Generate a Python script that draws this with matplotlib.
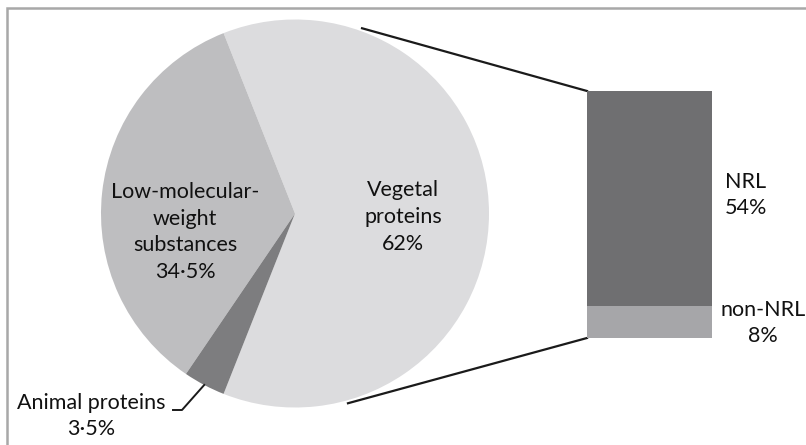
import matplotlib.pyplot as plt
from matplotlib.patches import Rectangle
import numpy as np

plt.rcParams["font.family"] = ["Lato", "DejaVu Sans"]

# pie data (percent)
pie_labels = ["Vegetal\nproteins\n62%", "Low-molecular-\nweight\nsubstances\n34\u00b75%", "Animal proteins\n3\u00b75%"]
pie_values = [62, 34.5, 3.5]
pie_colors = ["#dcdcde", "#bebec0", "#7d7d7f"]

# bar (split of vegetal proteins)
bar_labels = ["non-NRL\n8%", "NRL\n54%"]
bar_values = [8, 54]
bar_colors = ["#a6a6a9", "#6f6f71"]

W, H = 806, 445
fig = plt.figure(figsize=(W / 100, H / 100), dpi=100)
ax = fig.add_axes([0, 0, 1, 1])

# pie
cx, cy, r = 295, 445 - 213.5, 194
start = -pie_values[0] / 100 * 360 / 2
wedges, _ = ax.pie(pie_values, colors=pie_colors, startangle=start, counterclock=True,
                   center=(cx, cy), radius=r, frame=True, wedgeprops=dict(linewidth=0))
ax.set_xlim(0, W)
ax.set_ylim(0, H)
ax.set_aspect("equal")
ax.axis("off")

# bar of pie
bx, bw = 649.5, 125
bottom0 = 445 - 338
scale = 247 / sum(bar_values)
bottoms = [bottom0, bottom0 + bar_values[0] * scale]
ax.bar([bx, bx], [v * scale for v in bar_values], width=bw, bottom=bottoms,
       color=bar_colors, linewidth=0)

# connector lines from pie to bar
bar_top = bottom0 + sum(bar_values) * scale
for ang, by in [(70.1, bar_top), (-74.4, bottom0)]:
    px = cx + (r + 3) * np.cos(np.radians(ang))
    py = cy + (r + 3) * np.sin(np.radians(ang))
    ax.plot([px, bx - bw / 2], [py, by], color="#1a1a1a", lw=1.6, zorder=0.5)

fs = 15.5
ls = 1.42
tc = "#111111"
ax.text(403, 445 - 217, pie_labels[0], ha="center", va="center", fontsize=fs, color=tc, linespacing=ls)
ax.text(185, 445 - 232, pie_labels[1], ha="center", va="center", fontsize=fs, color=tc, linespacing=ls)
ax.text(91, 445 - 416, pie_labels[2], ha="center", va="center", fontsize=fs, color=tc, linespacing=ls)
ax.text(725, 445 - 195, bar_labels[1], ha="left", va="center", fontsize=fs, color=tc, linespacing=ls)
ax.text(763, 445 - 323, bar_labels[0], ha="center", va="center", fontsize=fs, color=tc, linespacing=ls)

# leader line for animal proteins
mid = np.radians(start + (pie_values[0] + pie_values[1] + pie_values[2] / 2) / 100 * 360)
ex, ey = cx + r * np.cos(mid), cy + r * np.sin(mid)
ax.plot([173, 182, ex], [445 - 410, 445 - 410, ey], color="#1a1a1a", lw=1.4)

# outer frame (cut off at right and bottom)
fig.patches.append(Rectangle((7.5 / W, -0.1), 1.2, 1 - 7.5 / H + 0.1, transform=fig.transFigure,
                             fill=False, edgecolor="#a8a8a8", lw=1.8))

fig.savefig("out.png", dpi=100)
